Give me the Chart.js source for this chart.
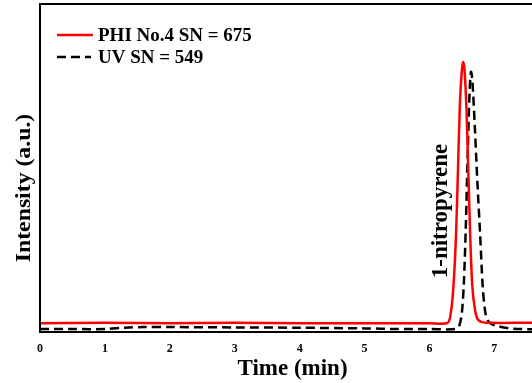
<!DOCTYPE html>
<html>
<head>
<meta charset="utf-8">
<script src="https://cdn.jsdelivr.net/npm/chart.js@4"></script>
<style>
  html, body { margin: 0; padding: 0; background: #fff; overflow: hidden; }
  #wrap { width: 546px; height: 383px; }
</style>
</head>
<body>
<div id="wrap"><canvas id="c" width="546" height="383"></canvas></div>
<script>
// values (time in min, intensity in a.u. 0..100)
var phiTime = [0, 1, 2, 3, 4, 5, 6, 6.28, 6.33, 6.37, 6.41, 6.44, 6.47, 6.50, 6.52, 6.54, 6.57, 6.60, 6.63, 6.66, 6.70, 6.74, 6.80, 6.90, 7.5, 8];
var phiSignal = [2.7, 2.8, 2.7, 2.8, 2.7, 2.7, 2.7, 2.8, 6, 14, 30, 50, 70, 80, 82.3, 80, 68, 48, 28, 14, 7, 4, 3.1, 2.8, 2.8, 2.8];

var uvTime = [0, 0.5, 1, 1.3, 1.6, 2, 3, 4, 5, 5.5, 6, 6.4, 6.46, 6.50, 6.53, 6.56, 6.59, 6.62, 6.64, 6.66, 6.70, 6.74, 6.78, 6.82, 6.86, 6.90, 6.95, 7.05, 7.2, 7.4, 8];
var uvSignal = [0.9, 0.9, 0.9, 1.3, 1.5, 1.5, 1.4, 1.3, 1.1, 0.9, 0.9, 0.9, 2, 6, 15, 32, 55, 74, 79.3, 77, 62, 45, 30, 14, 6, 3.5, 2.5, 1.8, 1.2, 0.9, 0.9];

var seriesNames = ['PHI No.4 SN = 675', 'UV SN = 549'];
var xTicks = [0, 1, 2, 3, 4, 5, 6, 7];
var peakLabel = '1-nitropyrene';
var yTitle = 'Intensity (a.u.)';

function pairs(xs, ys) {
    return xs.map(function (x, i) { return { x: x, y: ys[i] }; });
}

var serif = '"Liberation Serif", "Times New Roman", serif';

var framePlugin = {
    id: 'frame',
    afterDraw: function (chart) {
        var ctx = chart.ctx, a = chart.chartArea;
        ctx.save();
        ctx.strokeStyle = '#000';
        ctx.lineWidth = 2;
        ctx.strokeRect(a.left, a.top, a.right - a.left, a.bottom - a.top);
        ctx.restore();
    }
};

var legendPlugin = {
    id: 'innerLegend',
    afterDraw: function (chart) {
        var ctx = chart.ctx, a = chart.chartArea;
        ctx.save();
        chart.data.datasets.forEach(function (ds, i) {
            var y = a.top + 31 + i * 22;
            ctx.strokeStyle = ds.borderColor;
            ctx.lineWidth = ds.borderWidth;
            ctx.setLineDash(ds.borderDash || []);
            ctx.beginPath();
            ctx.moveTo(a.left + 17, y);
            ctx.lineTo(a.left + (i ? 51 : 53), y);
            ctx.stroke();
            ctx.setLineDash([]);
            ctx.fillStyle = '#000';
            ctx.font = 'bold 19px ' + serif;
            ctx.textBaseline = 'middle';
            ctx.fillText(ds.label, a.left + 58, y + 1);
        });
        ctx.restore();
    }
};

// rotated texts: peak name and the y axis title
var textPlugin = {
    id: 'rotText',
    afterDraw: function (chart) {
        var ctx = chart.ctx;
        var px = chart.scales.x.getPixelForValue(6.18);
        var py = chart.scales.y.getPixelForValue(36.9);
        ctx.save();
        ctx.fillStyle = '#000';
        ctx.textAlign = 'center';
        ctx.textBaseline = 'middle';
        ctx.translate(px, py);
        ctx.rotate(-Math.PI / 2);
        ctx.font = 'bold 23px ' + serif;
        ctx.fillText(peakLabel, 0, 0);
        ctx.restore();

        ctx.save();
        ctx.fillStyle = '#000';
        ctx.textAlign = 'center';
        ctx.textBaseline = 'middle';
        ctx.translate(24, 188);
        ctx.rotate(-Math.PI / 2);
        ctx.scale(1.08, 1);
        ctx.font = 'bold 22px ' + serif;
        ctx.fillText(yTitle, 0, 0);
        ctx.restore();
    }
};

new Chart(document.getElementById('c'), {
    type: 'line',
    data: {
        datasets: [{
            label: seriesNames[0],
            data: pairs(phiTime, phiSignal),
            borderColor: '#ff0000',
            borderWidth: 2.5,
            pointRadius: 0,
            tension: 0.3,
            fill: false
        }, {
            label: seriesNames[1],
            data: pairs(uvTime, uvSignal),
            borderColor: '#000000',
            borderWidth: 2.5,
            borderDash: [9, 5],
            pointRadius: 0,
            tension: 0.3,
            fill: false
        }]
    },
    options: {
        responsive: false,
        animation: false,
        layout: { padding: { left: 0, top: 4, right: 1, bottom: 0 } },
        plugins: {
            legend: { display: false },
            tooltip: { enabled: false }
        },
        scales: {
            x: {
                type: 'linear',
                min: 0,
                max: 7.78,
                grid: { display: false, drawTicks: false },
                border: { display: false },
                afterBuildTicks: function (axis) {
                    axis.ticks = xTicks.map(function (v) { return { value: v }; });
                },
                afterFit: function (axis) { axis.height = 51; },
                ticks: {
                    color: '#000',
                    padding: 10,
                    maxRotation: 0,
                    font: { family: serif, size: 12, weight: 'bold' }
                },
                title: {
                    display: true,
                    text: 'Time (min)',
                    color: '#000',
                    padding: { top: 0, bottom: 0 },
                    font: { family: serif, size: 23, weight: 'bold' }
                }
            },
            y: {
                min: 0,
                max: 100,
                grid: { display: false, drawTicks: false },
                border: { display: false },
                ticks: { display: false },
                afterFit: function (axis) { axis.width = 40; }
            }
        }
    },
    plugins: [framePlugin, legendPlugin, textPlugin]
});
</script>
</body>
</html>
